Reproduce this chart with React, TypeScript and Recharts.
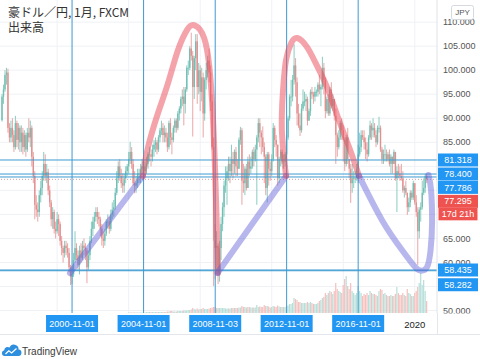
import React from 'react';
import { ComposedChart, Bar, Line, XAxis, YAxis, CartesianGrid, ReferenceLine } from 'recharts';

// ---- monthly AUD/JPY candles (FXCM), first month 1996-12 ----
const firstMonth = '1996-12';
const firstOpen = 89.6;
const closes: number[] = [
  94.5,
  96, 99, 99.5, 88, 86, 88, 86.5, 84, 89, 85.5, 88, 85,
  87, 84, 86.5, 83.5, 87, 86, 88, 82, 78, 72, 71, 70.5,
  74, 75.5, 78, 80.5, 78, 78.8, 75, 72.5, 69, 70.5, 67, 66.5,
  69, 68, 64.5, 63, 62, 63.5, 63, 62, 59, 57, 57.5, 60.5,
  63, 61.5, 59.5, 62.5, 61, 63.5, 63, 62.5, 59, 61.5, 64.5, 67,
  68.5, 69.5, 70.5, 69.5, 69, 67, 65, 64.5, 66, 68.5, 68.5, 67,
  70, 71, 71.5, 74.5, 77.5, 80, 78, 76.5, 76, 77.5, 79, 80,
  81.5, 83, 80.5, 76.5, 76, 76.5, 78.5, 78.5, 79.5, 80, 79, 80,
  80.5, 82.5, 82.5, 82, 83.5, 84.5, 85, 83.5, 86, 87.5, 88, 86.5,
  87, 86, 84, 89, 86, 85.5, 88, 89.5, 88, 91, 92, 94,
  94.5, 93, 96, 100.5, 100.5, 104.5, 103, 96.5, 102.5, 106, 96.5, 100,
  95.5, 98.5, 91, 98, 100, 102, 99.5, 93.5, 84, 64.5, 63, 63.5,
  57.5, 63, 68, 71.5, 76, 77.5, 79, 80.5, 79, 81.5, 80.5, 83,
  80, 79.5, 85.5, 87.5, 77, 76.5, 79.5, 75.5, 81, 79.5, 80, 83,
  81.5, 83.5, 86, 89, 87, 86, 84, 82, 75.5, 82.5, 79.5, 79,
  81.5, 88, 85.5, 84.5, 77.5, 81.5, 83, 81, 81, 82.5, 86, 90,
  94.5, 94.5, 98, 101, 97.5, 91, 88.5, 87.5, 92, 93.5, 93.5, 94,
  89.5, 91.5, 95.5, 95, 94.5, 95.5, 95.5, 97, 96, 96.5, 100.5, 98,
  91.5, 94, 91, 96, 92.5, 94, 90.5, 86.5, 84, 86, 89, 87.5,
  85.5, 80.5, 86, 81.5, 79.5, 76.5, 77.5, 77.5, 77.5, 79.5, 82.5, 84,
  86.5, 86, 85, 83.5, 82.5, 86, 88.5, 87.5, 88, 86.5, 85, 88,
  88, 83.5, 81.5, 82.5, 82.5, 81.5, 82.5, 80.5, 82, 80.5, 83, 77.5,
  79, 78.5, 78, 77.5, 75, 75.5, 74.5, 71.5, 72.5, 74.5, 73.5, 76.5,
  72.5, 70.5, 66.5, 71, 71.5, 74.5, 75.5, 78, 77.295,
];
const highs: number[] = [
  95,
  97, 100, 100.5, 100.3, 89, 89.5, 90, 87.5, 90.5, 89.5, 89, 88.5,
  88.5, 88, 87.5, 87, 88, 90, 89.5, 88.5, 83, 79, 74, 72.5,
  75, 77, 79, 83, 82.5, 80.5, 79.5, 76, 73, 71.5, 71, 68.5,
  70.5, 70, 68.5, 65.5, 63.5, 64.5, 64.5, 64, 63, 59.5, 59, 62,
  66.5, 64, 62.5, 63.5, 64, 64.5, 65, 64, 63, 62.5, 65.5, 68.5,
  69.5, 70.5, 71.5, 71.5, 70.5, 69.5, 68, 66.5, 67, 69, 70, 69.5,
  71, 72.5, 73, 75.5, 79, 81, 81.5, 79.5, 78.5, 78.5, 80, 80.5,
  83, 85.1, 84, 81.5, 79, 78, 79.5, 79.5, 80.5, 81.5, 81, 81,
  82, 83, 84, 83.5, 84.5, 85.5, 86, 85.5, 86.5, 88, 89.5, 89,
  88.5, 88, 87, 89.5, 90, 87, 88.5, 90, 90, 91.5, 92.5, 94.5,
  96, 96.5, 96.5, 101, 102, 105, 107.8, 104, 103, 107.5, 107.5, 101.5,
  101, 100.5, 99.5, 98.5, 101.5, 103, 104.5, 101, 95, 86, 68, 66.5,
  64, 64.5, 69.5, 72.5, 77, 80, 80, 82, 82, 84.5, 83, 83.5,
  84, 81.5, 86, 88.2, 88, 80.5, 80, 80.5, 82, 82.5, 82, 83.5,
  84, 84.5, 86.5, 90, 90, 87.5, 88.3, 85, 82.5, 83, 83, 81,
  82.5, 89, 88.5, 86.5, 84.5, 82, 83.5, 83.5, 82.5, 83, 86.5, 90.5,
  95, 98, 99, 105.4, 102.5, 98.5, 93, 91, 93, 96, 95.5, 95,
  94.5, 92, 96, 96.5, 95.5, 96.5, 96, 97.5, 99, 97, 102.8, 101.5,
  98.5, 94.5, 95, 96.5, 97.5, 95, 94, 92, 87, 87.5, 89.5, 90,
  88.5, 86, 86.5, 88, 81.5, 80.5, 80.5, 79, 79, 80.5, 84.5, 87,
  87.5, 87.5, 87.5, 86, 85, 86.5, 89.5, 89, 90, 89, 87.5, 88.5,
  90.3, 88.5, 84, 83.5, 84.5, 83.5, 83, 83.5, 82.5, 82, 83.5, 83,
  80, 80.5, 80, 80.5, 79, 76, 77, 74.5, 73.5, 75, 75, 77,
  76.5, 74, 71.5, 71.5, 72.5, 77, 77.5, 78.4, 78.4,
];
const lows: number[] = [
  89.3,
  93, 95.5, 97, 87, 85, 85, 85, 83, 83.5, 84, 83.5, 83,
  83, 82.5, 83, 82, 83, 85, 84, 80, 76.5, 69, 69.5, 68.5,
  69.5, 72.5, 74, 77, 77, 76.5, 74, 71.5, 67.5, 67, 66, 65,
  66, 65.5, 63.5, 61.5, 60, 61, 61.5, 61, 58, 55.3, 55.5, 57,
  60, 60.5, 58.5, 57.5, 60, 60.5, 61.5, 60.5, 55.7, 58.5, 60.5, 64,
  65.5, 67, 68.5, 68, 67.5, 65.5, 63.5, 63, 63.5, 65.5, 67, 66,
  66.5, 69, 69.5, 71, 74, 76.5, 77, 75.5, 74.5, 74.5, 76.5, 78,
  78.5, 80.5, 79.5, 76, 74.4, 74.5, 75.5, 76.5, 76.5, 78.5, 77, 78,
  78.5, 79.5, 81, 80, 81, 82, 83, 82.5, 83, 85, 86.5, 85,
  85, 85, 83, 83.5, 84.5, 82.5, 85, 87, 87, 87.5, 89.5, 91,
  92.5, 88.5, 91, 95.5, 99, 100, 102, 86.2, 94, 100, 93, 95,
  91.5, 93.5, 86, 89.5, 96, 98.5, 97.5, 91.5, 83.5, 55.1, 56.5, 57.5,
  55.5, 56, 60.5, 66.5, 69.5, 74.5, 72, 77, 76.5, 78, 77.5, 78.5,
  78, 78, 79.5, 84.5, 72, 74.5, 74, 75, 75.5, 78, 78.5, 79.5,
  80, 81, 72, 85, 84, 82.5, 83, 76.5, 74, 72.5, 76, 77,
  78, 81, 84, 82, 76, 76.5, 80, 80.5, 79.5, 80, 81.5, 85.5,
  89.5, 92.5, 93.5, 97, 94.5, 88.5, 88, 86.3, 87, 91.5, 92.5, 91.5,
  88.5, 89.5, 90.5, 94, 93, 93.5, 94.5, 94.5, 95, 92.5, 96, 95,
  90, 91, 90.5, 90.5, 92, 91.5, 89.5, 80.5, 82, 83.5, 85.5, 85.5,
  81, 79, 80, 80.5, 77.5, 72.4, 74.5, 75.5, 76.5, 77, 76.5, 82,
  83, 85.5, 83.5, 81.5, 81, 82, 85.5, 85.5, 86, 86, 84, 84.5,
  87, 83, 80.5, 80.5, 81, 81, 81, 80, 78.5, 78.5, 80.5, 77,
  70.5, 77.5, 77, 77, 74.5, 73.5, 74, 69.9, 70.5, 71.5, 73, 73,
  72, 69.5, 59.5, 65, 68.5, 71, 74, 74.5, 76.5,
];
// volume (出来高), first month 2004-01
const volumeFirstMonth = '2004-01';
const volumes: number[] = [
  0.5, 0.5, 0.5, 0.5, 0.5, 0.5, 0.5, 0.5, 0.5, 0.5, 0.5, 0.5,
  1, 1, 1, 1, 1, 1, 1, 1, 1, 1, 1, 1,
  1, 1, 1.5, 1.5, 2, 2, 1.5, 1.5, 1.5, 2, 2, 2,
  2, 2.5, 2.5, 2.5, 3, 3, 3.5, 5, 4, 3.5, 4.5, 3.5,
  4, 4, 5, 4, 4, 4, 4.5, 5, 5.5, 6, 6, 5,
  5, 5, 5, 5, 5, 4.5, 4.5, 4.5, 4.5, 5, 5, 5,
  5, 5, 5.5, 5.5, 7, 6, 6, 5.5, 6, 6, 5.5, 5.5,
  5.5, 5.5, 8, 6, 6.5, 6, 6, 8, 7, 7, 6.5, 5.5,
  6, 7, 6.5, 6, 7.5, 6.5, 6, 6, 6, 6, 7, 7.5,
  9, 9, 10, 15, 14, 13, 11, 11, 10, 10, 10, 10,
  11, 10, 11, 10, 9, 9, 9, 10, 12, 13, 15, 16,
  20, 18, 20, 22, 21, 19, 22, 30, 24, 22, 21, 20,
  28, 34, 37, 27, 24, 30, 22, 20, 18, 20, 27, 22,
  20, 17, 19, 18, 20, 18, 22, 20, 19, 19, 18, 17,
  22, 24, 23, 19, 20, 18, 17, 17, 18, 17, 17, 19,
  26, 20, 18, 18, 20, 18, 17, 24, 20, 19, 17, 17,
  20, 22, 26, 30, 40, 28, 33, 22, 12,
];

// ---- axis / annotation values ----
const title = '豪ドル／円, 1月, FXCM';
const volumeTitle = '出来高';
const currency = 'JPY';
const markedDates = ['2000-11-01', '2004-11-01', '2008-11-03', '2012-11-01', '2016-11-01'];
const yearLabel = '2020';
const gridYears = [2000, 2004, 2008, 2012, 2016, 2020];
const priceTicks = [50, 60, 65, 85, 90, 95, 100, 105, 110];
const gridPrices = [50, 55, 60, 65, 70, 75, 80, 85, 90, 95, 100, 105, 110];
const levelPrices = [81.318, 78.4, 77.786, 58.435, 58.282];
const lastPrice = 77.295;
const countdown = '17d 21h';

// drawings (x = months since 1997-01, v = price)
const blueLine1 = [{ m: 44.6, v: 57.8 }, { m: 93.5, v: 78.0 }];
const redArc1 = [
  { m: 93.5, v: 78.0 }, { m: 97, v: 84.0 }, { m: 103.7, v: 91.1 }, { m: 110.4, v: 97.3 },
  { m: 117.1, v: 104.2 }, { m: 123.2, v: 108.4 }, { m: 127.2, v: 109.4 }, { m: 131.9, v: 108.4 },
  { m: 136.6, v: 104.2 }, { m: 139.9, v: 93.8 }, { m: 141.9, v: 79.9 }, { m: 143.3, v: 66.1 },
  { m: 143.9, v: 57.8 },
];
const blueLine2 = [{ m: 143.6, v: 57.8 }, { m: 189.6, v: 78.0 }];
const redArc2 = [
  { m: 189.6, v: 78.0 }, { m: 186.8, v: 87.5 }, { m: 187.6, v: 95.9 }, { m: 189.6, v: 102.1 },
  { m: 193, v: 105.6 }, { m: 197, v: 106.7 }, { m: 203.7, v: 104.8 }, { m: 210.4, v: 100.9 },
  { m: 217.1, v: 96.5 }, { m: 225.8, v: 89.0 }, { m: 232.6, v: 83.4 }, { m: 238.6, v: 78.0 },
];
const blueCurve3 = [
  { m: 238.6, v: 78.0 }, { m: 254, v: 68.8 }, { m: 267.4, v: 62.6 }, { m: 276.2, v: 59.05 },
  { m: 280.2, v: 58.3 }, { m: 284.2, v: 59.05 }, { m: 286.6, v: 62.6 }, { m: 287.6, v: 68.4 },
  { m: 286.9, v: 75.1 }, { m: 285.2, v: 78.2 },
];

// ---- helpers ----
const monthIndex = (s: string) => {
  const [y, mo, d] = s.split('-').map(Number);
  return (y - 1997) * 12 + (mo - 1) + (d ? (d - 1) / 30 : 0);
};
const m0 = monthIndex(firstMonth);
const v0 = monthIndex(volumeFirstMonth);
const n = Math.min(closes.length, highs.length, lows.length);
const candles = Array.from({ length: n }, (_, i) => {
  const m = m0 + i;
  const vi = m - v0;
  return {
    m,
    o: i === 0 ? firstOpen : closes[i - 1],
    h: highs[i],
    l: lows[i],
    c: closes[i],
    vol: vi >= 0 && vi < volumes.length ? volumes[vi] : 0,
  };
});
const markedMonths = markedDates.map(monthIndex);
const yearMonth = monthIndex(yearLabel + '-01');
const timeTicks = [...markedMonths, yearMonth];
const gridMonths = gridYears.map((y) => monthIndex(y + '-01'));
// price-scale ticks: plain labels first, then tags (so the tags paint on top)
const axisTicks = [...priceTicks, ...levelPrices, lastPrice];
const tagShift: Record<string, number> = { '81.318': 0, '78.4': 0, '77.786': 10.4, '58.435': 0, '58.282': 14, '77.295': 22 };

const UP = '#6fbfb3';
const DOWN = '#e48f8f';
const VOL_UP = '#b7dfd9';
const VOL_DOWN = '#f4c0be';
const LINE_BLUE = '#3d9ad1';
const TAG_BLUE = '#2196f3';
const TAG_RED = '#ef5350';
const NUM_FONT = "'Liberation Sans', Arial, sans-serif";
const CJK_FONT = "'Noto Sans CJK JP', 'Noto Sans', sans-serif";

const Candle = (props: any) => {
  const { x, y, width, height, payload } = props;
  if (x == null || !payload) return null;
  const { o, h, l, c } = payload;
  const top = Math.min(y, y + height);
  const bot = Math.max(y, y + height);
  const k = h - l > 0 ? (bot - top) / (h - l) : 0;
  const cx = x + width / 2;
  const yo = top + (h - o) * k;
  const yc = top + (h - c) * k;
  const col = c >= o ? UP : DOWN;
  const bt = Math.min(yo, yc);
  const bh = Math.max(Math.abs(yc - yo), 0.8);
  return (
    <g>
      <line x1={cx} x2={cx} y1={top} y2={bot} stroke={col} strokeWidth={0.8} />
      <rect x={cx - 0.7} y={bt} width={1.4} height={bh} fill={col} />
    </g>
  );
};

const VolBar = (props: any) => {
  const { x, y, width, height, payload } = props;
  if (x == null || !payload || !height) return null;
  const cx = x + width / 2;
  const top = Math.min(y, y + height);
  return <rect x={cx - 0.6} y={top} width={1.2} height={Math.abs(height)} fill={payload.c >= payload.o ? VOL_UP : VOL_DOWN} />;
};

const TimeTick = (props: any) => {
  const { x, y, payload } = props;
  const idx = markedMonths.indexOf(payload.value);
  if (idx >= 0) {
    return (
      <g>
        <rect x={x - 26} y={y + 2} width={52} height={17} fill={TAG_BLUE} />
        <text x={x} y={y + 10.5} dy="0.35em" textAnchor="middle" fill="#fff" fontSize={9} fontFamily={NUM_FONT}>
          {markedDates[idx]}
        </text>
      </g>
    );
  }
  return (
    <text x={x} y={y + 12} dy="0.35em" textAnchor="middle" fill="#222" fontSize={9.5} fontFamily={NUM_FONT}>
      {yearLabel}
    </text>
  );
};

const PriceTick = (props: any) => {
  const { x, y, payload } = props;
  const v = Number(payload.value);
  const key = String(v);
  if (key in tagShift) {
    const isLast = v === lastPrice;
    const fill = isLast ? TAG_RED : TAG_BLUE;
    const cy = y + tagShift[key];
    const x0 = x - 6;
    return (
      <g>
        <rect x={x0 + 1} y={cy - 6.5} width={40} height={13} fill={fill} />
        <text x={x0 + 21} y={cy} dy="0.35em" textAnchor="middle" fill="#fff" fontSize={9} fontFamily={NUM_FONT}>
          {v.toFixed(3)}
        </text>
        {isLast ? (
          <g>
            <rect x={x0 + 1.5} y={cy + 6.5} width={39} height={12.5} fill={fill} />
            <text x={x0 + 21} y={cy + 12.75} dy="0.35em" textAnchor="middle" fill="#fff" fontSize={9} fontFamily={NUM_FONT}>
              {countdown}
            </text>
          </g>
        ) : null}
      </g>
    );
  }
  return (
    <text x={x} y={y} dy="0.35em" textAnchor="start" fill="#555" fontSize={9} fontFamily={NUM_FONT}>
      {v.toFixed(3)}
    </text>
  );
};

export default function App() {
  return (
    <div style={{ position: 'absolute', left: 0, top: 0, width: 480, height: 359, background: '#fff' }}>
      <ComposedChart width={480} height={359} data={candles} margin={{ top: 0, right: 0, bottom: 24, left: 0 }}>
        <CartesianGrid stroke="#eff1f5" horizontalValues={gridPrices} verticalValues={gridMonths} />
        <XAxis
          type="number"
          dataKey="m"
          domain={[-2.35, 290.9]}
          allowDataOverflow
          ticks={timeTicks}
          interval={0}
          tick={<TimeTick />}
          tickSize={0}
          tickMargin={0}
          tickLine={false}
          axisLine={false}
          height={22}
        />
        <XAxis xAxisId="vx" type="number" dataKey="m" domain={[-2.35, 290.9]} allowDataOverflow hide />
        <YAxis
          orientation="right"
          type="number"
          domain={[49.49, 114.6]}
          allowDataOverflow
          ticks={axisTicks}
          interval={0}
          width={43}
          tick={<PriceTick />}
          tickSize={6}
          tickMargin={0}
          tickLine={false}
          axisLine={{ stroke: '#dfe2ea' }}
        />
        <YAxis yAxisId="vol" type="number" domain={[0, 313]} allowDataOverflow hide />
        <Bar xAxisId="vx" yAxisId="vol" dataKey="vol" barSize={2} shape={<VolBar />} isAnimationActive={false} />
        <Bar dataKey={(d: any) => [d.l, d.h]} barSize={2} shape={<Candle />} isAnimationActive={false} />
        {markedMonths.map((m, i) => (
          <ReferenceLine key={'vl' + i} x={m} stroke={LINE_BLUE} strokeWidth={1} />
        ))}
        {levelPrices.map((v, i) => (
          <ReferenceLine key={'hl' + i} y={v} stroke={LINE_BLUE} strokeWidth={1} />
        ))}
        <ReferenceLine y={lastPrice} stroke="#d4a0a0" strokeDasharray="1 2" />
        <Line data={blueLine1} dataKey="v" type="linear" stroke="rgb(95,95,215)" strokeOpacity={0.45} strokeWidth={6} strokeLinecap="round" dot={false} activeDot={false} isAnimationActive={false} />
        <Line data={redArc1} dataKey="v" type="natural" stroke="rgb(236,72,88)" strokeOpacity={0.5} strokeWidth={6} strokeLinecap="round" dot={false} activeDot={false} isAnimationActive={false} />
        <Line data={blueLine2} dataKey="v" type="linear" stroke="rgb(95,95,215)" strokeOpacity={0.45} strokeWidth={6} strokeLinecap="round" dot={false} activeDot={false} isAnimationActive={false} />
        <Line data={redArc2} dataKey="v" type="natural" stroke="rgb(236,72,88)" strokeOpacity={0.5} strokeWidth={6} strokeLinecap="round" dot={false} activeDot={false} isAnimationActive={false} />
        <Line data={blueCurve3} dataKey="v" type="natural" stroke="rgb(95,95,215)" strokeOpacity={0.45} strokeWidth={6} strokeLinecap="round" dot={false} activeDot={false} isAnimationActive={false} />
      </ComposedChart>
      <svg width={480} height={359} style={{ position: 'absolute', left: 0, top: 0, pointerEvents: 'none' }}>
        <rect x={438} y={313.5} width={42} height={21} fill="#fff" />
        <line x1={0} x2={480} y1={334.5} y2={334.5} stroke="#e3e6ec" />
        <line x1={437.5} x2={437.5} y1={313} y2={335} stroke="#e3e6ec" />
        <text x={8} y={16.5} fontSize={12} fill="#333" fontFamily={CJK_FONT}>{title}</text>
        <text x={8} y={32} fontSize={12} fill="#333" fontFamily={CJK_FONT}>{volumeTitle}</text>
        <rect x={451.5} y={5.5} width={22} height={14} rx={2} fill="#fff" stroke="#d6d9e0" />
        <text x={462.5} y={12.5} dy="0.35em" textAnchor="middle" fontSize={8} fill="#555" fontFamily={NUM_FONT}>{currency}</text>
        <path d="M4 356 H18 A3.2 3.2 0 0 0 18.5 349.6 A4.6 4.6 0 0 0 9.6 347.6 A3.4 3.4 0 0 0 4.2 350.2 A3 3 0 0 0 4 356 Z" fill="#2f8fdf" />
        <polyline points="5.5,354 8.8,350.8 11.6,353 16.5,348.6" fill="none" stroke="#fff" strokeWidth={1.3} />
        <text x={22} y={355} fontSize={10} fill="#3a3a3a" fontFamily={NUM_FONT}>TradingView</text>
      </svg>
    </div>
  );
}
